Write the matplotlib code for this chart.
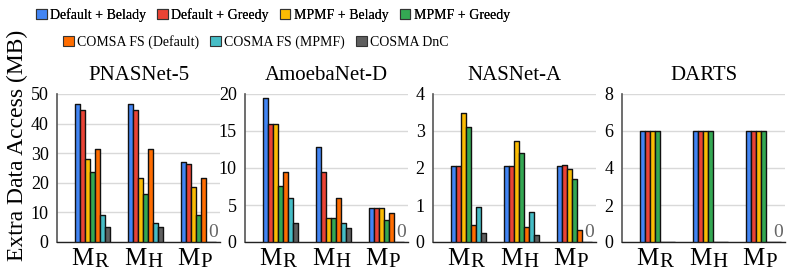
import numpy as np
import matplotlib
matplotlib.use("Agg")
import matplotlib.pyplot as plt
import matplotlib.transforms as mtransforms
from matplotlib.patches import Patch
from matplotlib.font_manager import FontProperties

# ------------------------------------------------------------
# Data
# ------------------------------------------------------------

models = ["PNASNet-5", "AmoebaNet-D", "NASNet-A", "DARTS"]
groups = ["R", "H", "P"]

series = [
    "Default + Belady",
    "Default + Greedy",
    "MPMF + Belady",
    "MPMF + Greedy",
    "COMSA FS (Default)",
    "COSMA FS (MPMF)",
    "COSMA DnC",
]

colors = ["#4285F4", "#EA4335", "#FBBC04", "#34A853", "#FF6D01", "#46BDC6", "#5F5F5F"]

# values[group] = one entry per series
pnasnet = [
    [46.5, 44.5, 28.0, 23.5, 31.3, 9.2, 5.0],
    [46.5, 44.5, 21.5, 16.2, 31.3, 6.4, 5.0],
    [27.0, 26.5, 18.7, 9.2, 21.7, 0, 0],
]
amoebanet = [
    [19.4, 16.0, 16.0, 7.6, 9.4, 6.0, 2.6],
    [12.8, 9.5, 3.3, 3.3, 6.0, 2.6, 1.9],
    [4.6, 4.6, 4.6, 3.0, 3.9, 0, 0],
]
nasnet = [
    [2.05, 2.05, 3.48, 3.12, 0.47, 0.94, 0.25],
    [2.05, 2.05, 2.73, 2.40, 0.40, 0.80, 0.18],
    [2.05, 2.07, 1.97, 1.70, 0.33, 0, 0],
]
darts = [
    [6.0, 6.0, 6.0, 6.0, 0, 0, 0],
    [6.0, 6.0, 6.0, 6.0, 0, 0, 0],
    [6.0, 6.0, 6.0, 6.0, 0, 0, 0],
]
all_values = [pnasnet, amoebanet, nasnet, darts]

y_max = [50, 20, 4, 8]
y_step = [10, 5, 1, 2]

# ------------------------------------------------------------
# Figure layout
# ------------------------------------------------------------

plt.rcParams["font.family"] = ["Liberation Serif", "DejaVu Serif"]
serif = "Liberation Serif"

W, H = 797, 277
fig = plt.figure(figsize=(W / 100, H / 100), dpi=100)

ax_left = [57, 245, 433, 622]
ax_width = 163
ax_bottom = 35
ax_height = 148

bar_w = 0.093
n_series = len(series)
offsets = (np.arange(n_series) - (n_series - 1) / 2) * bar_w
x = np.arange(len(groups))

for k, model in enumerate(models):
    ax = fig.add_axes([ax_left[k] / W, ax_bottom / H, ax_width / W, ax_height / H])
    vals = np.array(all_values[k])

    for s in range(n_series):
        ax.bar(x + offsets[s], vals[:, s], width=bar_w, color=colors[s],
               edgecolor="#111111", linewidth=1.0, joinstyle="round", zorder=3)

    # zero label on last bar of last group
    ax.annotate("0", (x[-1] + offsets[-1], 0), xytext=(0, 1), textcoords="offset points",
                ha="center", va="bottom", fontsize=14, color="#666666",
                family=serif, zorder=4)

    ax.set_xlim(-0.67, 2.40)
    ax.set_ylim(0, y_max[k])
    ax.set_yticks(np.arange(0, y_max[k] + 0.01, y_step[k]))
    ax.tick_params(axis="y", length=0, labelsize=13, pad=6)
    ax.tick_params(axis="x", length=0, labelbottom=False)
    for lab in ax.get_yticklabels():
        lab.set_family(serif)
    ax.grid(axis="y", color="#d9d9d9", linewidth=1, zorder=0)

    for side in ["top", "right"]:
        ax.spines[side].set_visible(False)
    ax.spines["left"].set_color("#555555")
    ax.spines["left"].set_linewidth(1.2)
    ax.spines["bottom"].set_color("#222222")
    ax.spines["bottom"].set_linewidth(1.0)

    ax.set_title(model, fontsize=15, pad=10, family=serif)

    # x tick labels: M with a large subscript
    base = mtransforms.blended_transform_factory(ax.transData, ax.transAxes)
    for i, g in enumerate(groups):
        ax.text(i + 0.02, -0.04, "M", transform=base, ha="right", va="top",
                fontsize=18, family=serif)
        sub = mtransforms.offset_copy(base, fig=fig, x=1, y=-5, units="dots")
        ax.text(i + 0.02, -0.04, g, transform=sub, ha="left", va="top",
                fontsize=15, family=serif)

# ------------------------------------------------------------
# Labels and legend
# ------------------------------------------------------------

fig.text(0.022, 0.475, "Extra Data Access (MB)", rotation=90, ha="center", va="center",
         fontsize=17, family=serif)

handles = [Patch(facecolor=c, edgecolor="#333333", linewidth=0.8) for c in colors]
leg_font = FontProperties(family=serif, size=10)

leg1 = fig.legend(handles[:4], series[:4], loc="center", bbox_to_anchor=(273 / W, 1 - 15 / H),
                  ncol=4, frameon=False, prop=leg_font, handlelength=0.75, handleheight=0.75,
                  handletextpad=0.25, columnspacing=0.8, borderpad=0)
fig.add_artist(leg1)
fig.legend(handles[4:], series[4:], loc="center", bbox_to_anchor=(256 / W, 1 - 42 / H),
           ncol=3, frameon=False, prop=leg_font, handlelength=0.75, handleheight=0.75,
           handletextpad=0.25, columnspacing=0.8, borderpad=0)

fig.savefig("out.png", dpi=100)
